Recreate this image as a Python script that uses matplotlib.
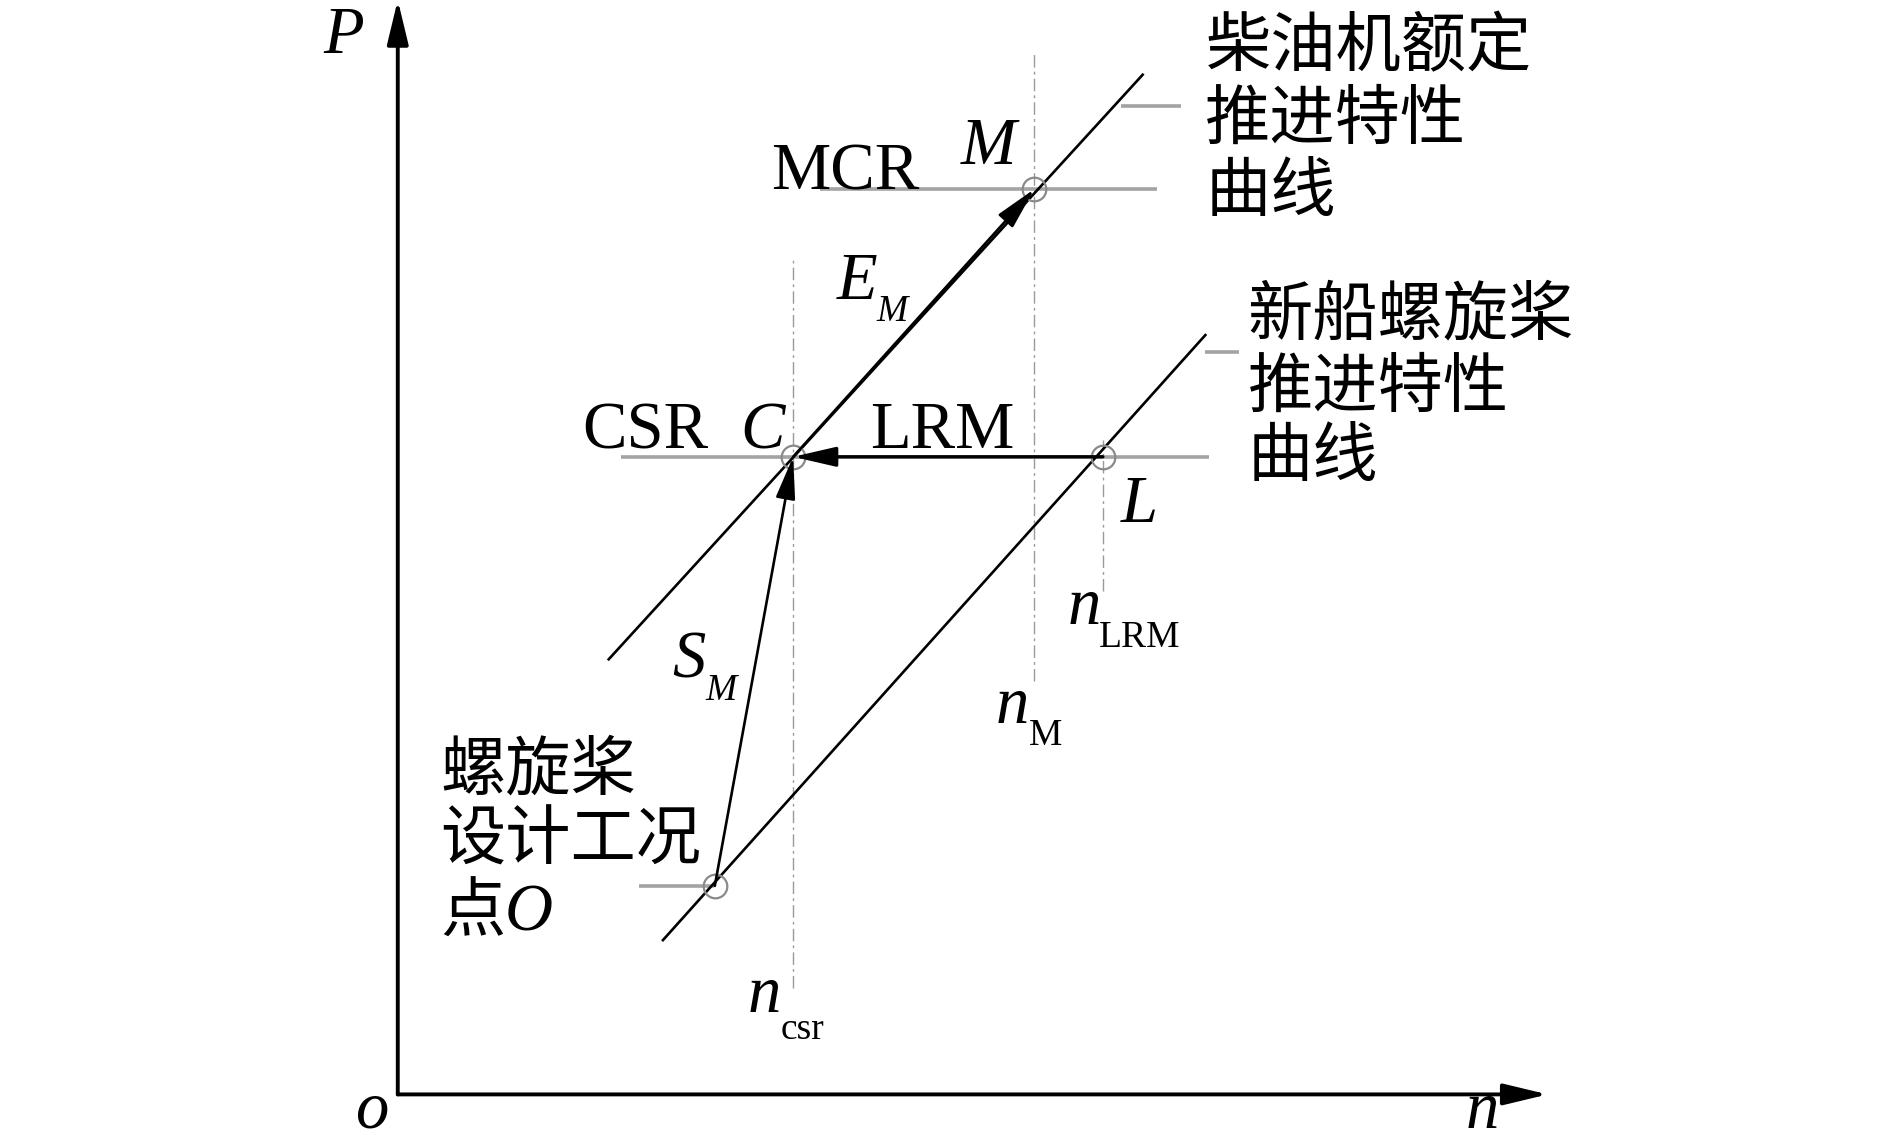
import matplotlib
matplotlib.use("Agg")
import matplotlib.pyplot as plt
from matplotlib.patches import FancyArrowPatch

SERIF = 'Liberation Serif'
CJK = ['Noto Sans CJK SC', 'DejaVu Sans']

# 工况点 (n, P)，示意图坐标
point_names = ['M', 'C', 'L', 'O']
point_n = [528, 328, 585, 263]
point_P = [751, 529, 529, 173]

# 柴油机额定推进特性曲线 与 新船螺旋桨推进特性曲线 (端点)
engine_n = [175, 618]
engine_P = [361, 846]
prop_n = [220, 670]
prop_P = [128, 630]

# 转速竖直参考线: n 位置, 下端, 上端
ref_n = [328, 528, 585]
ref_P_low = [88, 343, 418]
ref_P_high = [693, 863, 543]

# 功率水平参考线: P 位置, 左端, 右端
hline_P = [751, 529, 173, 820, 616]
hline_n0 = [350, 185, 200, 600, 670]
hline_n1 = [630, 673, 262, 650, 698]

axis_n_max = 954
axis_P_max = 908

fig = plt.figure(figsize=(18.9, 11.39), dpi=100)
ax = fig.add_axes([0, 0, 1, 1])
ax.set_xlim(-330, 1238)
ax.set_ylim(-37, 908)
ax.axis('off')

GRAY = '#a3a3a3'

def arrow(p0, p1, lw, hl, hw):
    a = FancyArrowPatch(p0, p1, arrowstyle=f'-|>,head_length={hl},head_width={hw}',
                        mutation_scale=10, color='black', lw=lw,
                        shrinkA=0, shrinkB=0, zorder=5)
    ax.add_patch(a)

# 坐标轴
arrow((0, 0), (0, axis_P_max), 2.8, 2.7, 0.65)
arrow((0, 0), (axis_n_max, 0), 2.8, 2.7, 0.65)

# 参考线
for n, p0, p1 in zip(ref_n, ref_P_low, ref_P_high):
    ax.plot([n, n], [p0, p1], color='#9a9a9a', lw=1.0, ls=(0, (9, 3, 2, 3)), zorder=1)
for p, n0, n1 in zip(hline_P, hline_n0, hline_n1):
    ax.plot([n0, n1], [p, p], color=GRAY, lw=2.6, zorder=1, solid_capstyle='butt')

# 两条推进特性曲线
ax.plot(engine_n, engine_P, color='black', lw=1.9, zorder=3)
ax.plot(prop_n, prop_P, color='black', lw=1.9, zorder=3)

# 箭头 E_M, S_M, LRM
pt = dict(zip(point_names, zip(point_n, point_P)))
arrow(pt['C'], pt['M'], 1.9, 2.6, 0.6)
arrow(pt['O'], pt['C'], 1.9, 2.6, 0.6)
arrow(pt['L'], pt['C'], 2.4, 2.6, 0.6)

# 工况点小圆
ax.plot(point_n, point_P, 'o', ms=17, mfc='none', mec='#8a8a8a', mew=1.6, zorder=4)

# 文本
fs = 48
sfs = 27

def it(x, y, s, size=fs, **kw):
    ax.text(x, y, s, fontsize=size, family=SERIF, style='italic', ha='left', va='baseline', **kw)

def rm(x, y, s, size=fs, **kw):
    ax.text(x, y, s, fontsize=size, family=SERIF, ha='left', va='baseline', **kw)

ax.text(-45, 878, 'P', fontsize=fs, family=SERIF, style='italic', ha='center', va='center')
ax.text(-22, -14, 'o', fontsize=fs, family=SERIF, style='italic', ha='center', va='center')
ax.text(900, -14, 'n', fontsize=fs, family=SERIF, style='italic', ha='center', va='center')

rm(310, 751, 'MCR')
ax.text(490, 786, 'M', fontsize=fs, family=SERIF, style='italic', ha='center', va='center')
it(364, 660, 'E')
it(397, 642, 'M', sfs)
rm(153, 536, 'CSR')
it(284, 536, 'C')
rm(392, 536, 'LRM')
it(600, 475, 'L')
it(228, 346, 'S')
it(255, 327, 'M', sfs)
it(556, 390, 'n')
rm(582, 371, 'LRM', sfs)
it(496, 308, 'n')
rm(524, 290, 'M', sfs)
it(290, 68, 'n')
rm(318, 46, 'csr', sfs)

cfs = 47
engine_label = ['柴油机额定', '推进特性', '曲线']
engine_label_P = [868, 808, 748]
for s, p in zip(engine_label, engine_label_P):
    ax.text(670, p, s, fontsize=cfs, family=CJK, ha='left', va='center')

prop_label = ['新船螺旋桨', '推进特性', '曲线']
prop_label_P = [646, 586, 528]
for s, p in zip(prop_label, prop_label_P):
    ax.text(705, p, s, fontsize=cfs, family=CJK, ha='left', va='center')

design_label = ['螺旋桨', '设计工况', '点']
design_label_P = [268, 210, 150]
for s, p in zip(design_label, design_label_P):
    ax.text(35, p, s, fontsize=cfs, family=CJK, ha='left', va='center')
ax.text(89, 150, 'O', fontsize=fs, family=SERIF, style='italic', ha='left', va='center')

fig.savefig('out.png', dpi=100)
